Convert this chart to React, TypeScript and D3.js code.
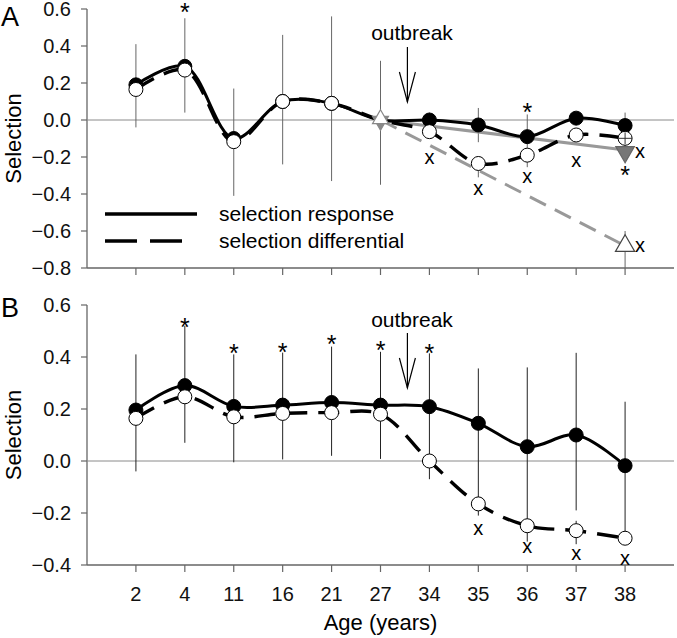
import React from "react";
import * as d3 from "d3";

const ages = ["2", "4", "11", "16", "21", "27", "34", "35", "36", "37", "38"];

// Panel A
const respA = [0.19, 0.29, -0.1, 0.1, 0.09, 0.0, 0.0, -0.027, -0.09, 0.01, -0.03];
const diffA = [0.165, 0.27, -0.117, 0.1, 0.09, 0.0, -0.063, -0.235, -0.19, -0.081, -0.099];
const errHiA = [0.41, 0.55, 0.17, 0.46, 0.56, 0.32, 0.04, 0.065, 0.03, 0.043, 0.04];
const errLoA = [-0.04, 0.04, -0.41, -0.24, -0.33, -0.35, -0.04, -0.12, -0.15, -0.02, -0.16];
const diffErrAgesA = ["35", "36", "37"];
const diffErrHiA = [-0.2, -0.15, -0.05];
const diffErrLoA = [-0.31, -0.255, -0.11];
const predAges = ["27", "38"];
const predResp = [0, -0.162];
const predDiff = [0, -0.68];
const predDiffErrHi = -0.6;
const predDiffErrLo = -0.8;
const starAgesA = ["4", "36", "38"];
const starValsA = [0.61, 0.07, -0.27];
const xMarkAgesA = ["34", "35", "36", "37", "38", "38"];
const xMarkValsA = [-0.207, -0.378, -0.312, -0.225, -0.175, -0.686];
const xMarkSideA = ["below", "below", "below", "below", "right", "right"];

// Panel B
const respB = [0.196, 0.29, 0.21, 0.215, 0.225, 0.215, 0.209, 0.145, 0.055, 0.1, -0.018];
const diffB = [0.164, 0.247, 0.17, 0.183, 0.186, 0.18, 0.0, -0.165, -0.249, -0.268, -0.297];
const errHiB = [0.41, 0.52, 0.41, 0.417, 0.44, 0.42, 0.414, 0.356, 0.36, 0.416, 0.228];
const errLoB = [-0.04, 0.07, -0.005, 0.006, 0.02, 0.008, -0.07, -0.21, -0.31, -0.19, -0.32];
const diffErrAgesB = ["37"];
const diffErrHiB = [-0.23];
const diffErrLoB = [-0.32];
const starAgesB = ["4", "11", "16", "21", "27", "34"];
const starValsB = [0.536, 0.436, 0.44, 0.47, 0.446, 0.433];
const xMarkAgesB = ["35", "36", "37", "38"];
const xMarkValsB = [-0.263, -0.333, -0.358, -0.377];

const ticksA = [0.6, 0.4, 0.2, 0.0, -0.2, -0.4, -0.6, -0.8];
const ticksB = [0.6, 0.4, 0.2, 0.0, -0.2, -0.4];
const legendLabels = ["selection response", "selection differential"];
const outbreakAfter = "27";

const FONT = "'Liberation Sans', Arial, sans-serif";

const W = 677;
const H = 638;
const X0 = 87;
const X1 = 674;

const x = d3.scalePoint<string>().domain(ages).range([X0, X1]).padding(1);
const step = x.step();

function Triangle({ cx, cy, size, down, fill, stroke }: any) {
  const sym = d3.symbol().type(d3.symbolTriangle).size(size)();
  return (
    <path
      d={sym || ""}
      transform={`translate(${cx},${cy}) rotate(${down ? 180 : 0})`}
      fill={fill}
      stroke={stroke}
      strokeWidth={1.2}
    />
  );
}

function Panel({ panel }: { panel: "A" | "B" }) {
  const isA = panel === "A";
  const y = isA
    ? d3.scaleLinear().domain([-0.8, 0.6]).range([268, 9])
    : d3.scaleLinear().domain([-0.4, 0.6]).range([565, 305]);
  const ticks = isA ? ticksA : ticksB;
  const resp = isA ? respA : respB;
  const diff = isA ? diffA : diffB;
  const hi = isA ? errHiA : errHiB;
  const lo = isA ? errLoA : errLoB;
  const dAges = isA ? diffErrAgesA : diffErrAgesB;
  const dHi = isA ? diffErrHiA : diffErrHiB;
  const dLo = isA ? diffErrLoA : diffErrLoB;
  const sAges = isA ? starAgesA : starAgesB;
  const sVals = isA ? starValsA : starValsB;
  const xmAges = isA ? xMarkAgesA : xMarkAgesB;
  const xmVals = isA ? xMarkValsA : xMarkValsB;
  const xmSide = isA ? xMarkSideA : xMarkAgesB.map(() => "below");
  const [yTop, yBot] = [y.range()[1], y.range()[0]];
  const errColor = isA ? "#666" : "#222";

  const line = d3
    .line<number>()
    .x((_, i) => x(ages[i]) as number)
    .y((d) => y(d))
    .curve(d3.curveCatmullRom.alpha(0.5));

  const lineStraight = d3
    .line<number>()
    .x((_, i) => x(predAges[i]) as number)
    .y((d) => y(d));

  const ob = (x(outbreakAfter) as number) + step * 0.55;
  const obTextY = isA ? 40 : 327;
  const obArrowTop = isA ? 47 : 333;
  const obArrowTip = isA ? 102 : 388;

  return (
    <g>
      {/* axes */}
      <line x1={X0} x2={X0} y1={yTop} y2={yBot} stroke="#666" strokeWidth={1.3} />
      <line x1={X0} x2={X1} y1={yBot} y2={yBot} stroke="#666" strokeWidth={1.3} />
      {ticks.map((t) => (
        <g key={t}>
          <line x1={X0 - 6} x2={X0} y1={y(t)} y2={y(t)} stroke="#666" strokeWidth={1.2} />
          <text
            x={71}
            y={y(t)}
            dy="0.36em"
            textAnchor="end"
            fontSize={20}
            fontFamily={FONT}
            fill="#111"
          >
            {d3.format(".1f")(t)}
          </text>
        </g>
      ))}
      {ages.map((a) => (
        <line
          key={a}
          x1={x(a)}
          x2={x(a)}
          y1={yBot}
          y2={yBot + 7}
          stroke="#666"
          strokeWidth={1.2}
        />
      ))}
      {/* zero line */}
      <line x1={X0} x2={X1} y1={y(0)} y2={y(0)} stroke="#8a8a8a" strokeWidth={1} />

      {/* error bars */}
      {ages.map((a, i) => (
        <line
          key={"e" + a}
          x1={x(a)}
          x2={x(a)}
          y1={y(hi[i])}
          y2={y(lo[i])}
          stroke={errColor}
          strokeWidth={1}
        />
      ))}
      {dAges.map((a, i) => (
        <line
          key={"de" + a}
          x1={x(a)}
          x2={x(a)}
          y1={y(dHi[i])}
          y2={y(dLo[i])}
          stroke={errColor}
          strokeWidth={1}
        />
      ))}
      {isA && (
        <line
          x1={x("38")}
          x2={x("38")}
          y1={y(predDiffErrHi)}
          y2={y(predDiffErrLo)}
          stroke={errColor}
          strokeWidth={1}
        />
      )}

      {/* predicted gray lines */}
      {isA && (
        <g>
          <path d={lineStraight(predResp) || ""} fill="none" stroke="#999" strokeWidth={3} />
          <path
            d={lineStraight(predDiff) || ""}
            fill="none"
            stroke="#999"
            strokeWidth={3}
            strokeDasharray="18 10"
          />
        </g>
      )}

      {/* main lines */}
      <path d={line(diff) || ""} fill="none" stroke="#000" strokeWidth={3.4} strokeDasharray="21 11" />
      <path d={line(resp) || ""} fill="none" stroke="#000" strokeWidth={3} />

      {/* markers */}
      {ages.map((a, i) =>
        isA && a === "27" ? null : (
          <circle key={"r" + a} cx={x(a)} cy={y(resp[i])} r={7} fill="#000" stroke="#000" />
        )
      )}
      {ages.map((a, i) =>
        isA && a === "27" ? null : (
          <circle key={"d" + a} cx={x(a)} cy={y(diff[i])} r={7} fill="#fff" stroke="#000" strokeWidth={1} />
        )
      )}
      {isA && (
        <g>
          <line
            x1={x("38")}
            x2={x("38")}
            y1={y(diff[10]) - 6}
            y2={y(diff[10]) + 6}
            stroke="#333"
            strokeWidth={1}
          />
          <line
            x1={(x("38") as number) - 7}
            x2={(x("38") as number) + 7}
            y1={y(diff[10])}
            y2={y(diff[10])}
            stroke="#333"
            strokeWidth={1}
          />
          <Triangle cx={x("27")} cy={y(0) + 1} size={110} down fill="#888" stroke="#888" />
          <Triangle cx={x("27")} cy={y(0) - 1} size={110} fill="#fff" stroke="#888" />
          <Triangle cx={x("38")} cy={y(predResp[1]) + 2} size={150} down fill="#777" stroke="#666" />
          <Triangle cx={x("38")} cy={y(predDiff[1])} size={160} fill="#fff" stroke="#444" />
        </g>
      )}

      {/* stars */}
      {sAges.map((a, i) => (
        <text
          key={"s" + i}
          x={x(a)}
          y={y(sVals[i]) + 14}
          textAnchor="middle"
          fontSize={25}
          fontFamily={FONT}
          fill="#000"
        >
          *
        </text>
      ))}
      {/* x marks */}
      {xmAges.map((a, i) => (
        <text
          key={"x" + i}
          x={(x(a) as number) + (xmSide[i] === "right" ? 15 : 0)}
          y={y(xmVals[i]) + 5.5}
          textAnchor="middle"
          fontSize={20}
          fontFamily={FONT}
          fill="#000"
        >
          x
        </text>
      ))}

      {/* outbreak */}
      <text x={412} y={obTextY} textAnchor="middle" fontSize={21} fontFamily={FONT} fill="#000">
        outbreak
      </text>
      <line x1={ob} x2={ob} y1={obArrowTop} y2={obArrowTip} stroke="#000" strokeWidth={1.2} />
      <polyline
        points={`${ob - 8},${obArrowTip - 30} ${ob},${obArrowTip} ${ob + 8},${obArrowTip - 30}`}
        fill="none"
        stroke="#000"
        strokeWidth={1.2}
      />

      {/* y label */}
      <text
        transform={`translate(21,${(yTop + yBot) / 2}) rotate(-90)`}
        textAnchor="middle"
        fontSize={22}
        fontFamily={FONT}
        fill="#000"
      >
        Selection
      </text>
      {/* panel letter */}
      <text x={1} y={isA ? 26 : 317} fontSize={27} fontFamily={FONT} fill="#000">
        {panel}
      </text>

      {isA && (
        <g>
          <line x1={105} x2={197} y1={214} y2={214} stroke="#000" strokeWidth={3.4} />
          <line
            x1={105}
            x2={183}
            y1={241}
            y2={241}
            stroke="#000"
            strokeWidth={3.4}
            strokeDasharray="32 13"
          />
          <text x={219} y={221} fontSize={21} fontFamily={FONT} fill="#000">
            {legendLabels[0]}
          </text>
          <text x={219} y={248} fontSize={21} fontFamily={FONT} fill="#000">
            {legendLabels[1]}
          </text>
        </g>
      )}

      {!isA && (
        <g>
          {ages.map((a) => (
            <text
              key={"xl" + a}
              x={x(a)}
              y={601}
              textAnchor="middle"
              fontSize={20}
              fontFamily={FONT}
              fill="#111"
            >
              {a}
            </text>
          ))}
          <text x={(X0 + X1) / 2} y={630} textAnchor="middle" fontSize={22} fontFamily={FONT} fill="#000">
            Age (years)
          </text>
        </g>
      )}
    </g>
  );
}

export default function App() {
  return (
    <svg
      width={W}
      height={H}
      style={{ position: "absolute", left: 0, top: 0, background: "#fff" }}
    >
      <rect width={W} height={H} fill="#fff" />
      <Panel panel="A" />
      <Panel panel="B" />
    </svg>
  );
}
